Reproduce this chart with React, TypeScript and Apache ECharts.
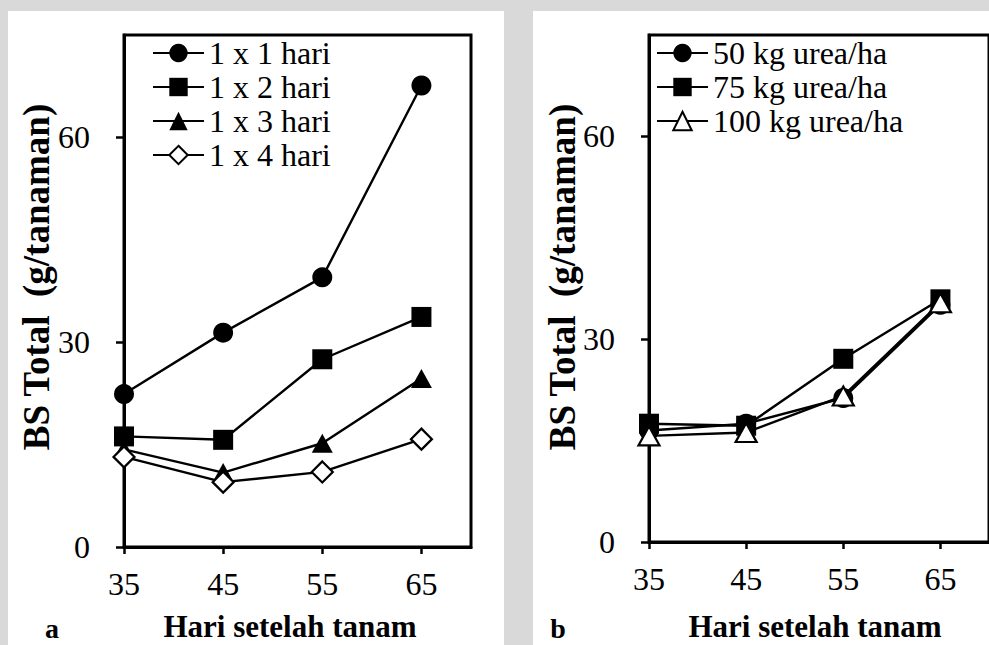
import React, { useEffect, useRef } from "react";
import * as echarts from "echarts";

const days = [35, 45, 55, 65];
const xTicks = [35, 45, 55, 65];
const yTicks = [0, 30, 60];

const leftNames = ["1 x 1 hari", "1 x 2 hari", "1 x 3 hari", "1 x 4 hari"];
const left1 = [22.4, 31.4, 39.5, 67.6];
const left2 = [16.2, 15.7, 27.5, 33.7];
const left3 = [14.3, 10.9, 15.2, 24.7];
const left4 = [13.2, 9.5, 11.0, 15.8];

const rightNames = ["50 kg urea/ha", "75 kg urea/ha", "100 kg urea/ha"];
const right50 = [16.5, 17.5, 21.3, 35.1];
const right75 = [17.5, 17.2, 27.1, 35.9];
const right100 = [15.7, 16.2, 21.6, 35.4];

const xTitle = "Hari setelah tanam";
const yTitle = "BS Total  (g/tanaman)";

const FONT = '"Liberation Serif", "Times New Roman", serif';

export default function App() {
  const ref = useRef<HTMLDivElement>(null);

  useEffect(() => {
    if (!ref.current) return;
    const chart = echarts.init(ref.current, undefined, { renderer: "svg" });

    const pair = (vals: number[]) => days.map((d, i) => [d, vals[i]]);

    const mkX = (gi: number) => ({
      type: "value",
      gridIndex: gi,
      min: 35,
      max: 70,
      interval: 10,
      axisLine: { show: true, onZero: false, lineStyle: { color: "#000", width: 3 } },
      axisTick: { show: true, length: 7, customValues: xTicks, lineStyle: { color: "#000", width: 2.5 } },
      axisLabel: {
        customValues: xTicks,
        formatter: (v: number) => (xTicks.includes(v) ? String(v) : ""),
        margin: 21,
        color: "#000",
        fontFamily: FONT,
        fontSize: 32,
      },
      splitLine: { show: false },
    });
    const mkY = (gi: number) => ({
      type: "value",
      gridIndex: gi,
      min: 0,
      max: 75,
      interval: 30,
      axisLine: { show: true, lineStyle: { color: "#000", width: 3 } },
      axisTick: { show: true, length: 8, customValues: yTicks, lineStyle: { color: "#000", width: 2.5 } },
      axisLabel: {
        customValues: yTicks,
        formatter: (v: number) => (yTicks.includes(v) ? String(v) : ""),
        margin: 34,
        color: "#000",
        fontFamily: FONT,
        fontSize: 32,
      },
      splitLine: { show: false },
    });

    const solid = (name: string, symbol: string, size: number | number[], data: number[], xi: number) => ({
      type: "line",
      name,
      xAxisIndex: xi,
      yAxisIndex: xi,
      data: pair(data),
      symbol,
      symbolSize: size,
      showSymbol: true,
      lineStyle: { color: "#000", width: 2.4 },
      itemStyle: { color: "#000" },
    });
    const hollow = (name: string, symbol: string, size: number | number[], data: number[], xi: number) => ({
      type: "line",
      name,
      xAxisIndex: xi,
      yAxisIndex: xi,
      data: pair(data),
      symbol,
      symbolSize: size,
      showSymbol: true,
      lineStyle: { color: "#000", width: 2.4 },
      itemStyle: { color: "#fff", borderColor: "#000", borderWidth: 2.2 },
    });

    const legendBase = {
      orient: "vertical",
      itemWidth: 51,
      itemHeight: 23,
      itemGap: 0,
      padding: 0,
      selectedMode: false,
      textStyle: { color: "#000", fontFamily: FONT, fontSize: 32, lineHeight: 34 },
    };

    const titleFont = `bold 31px ${FONT}`;
    const yTitleFont = `bold 37px ${FONT}`;

    chart.setOption({
      animation: false,
      backgroundColor: "transparent",
      grid: [
        { left: 124, top: 35, width: 347, height: 512, show: true, borderColor: "#000", borderWidth: 3, backgroundColor: "transparent" },
        { left: 649, top: 35, width: 347, height: 507, show: true, borderColor: "#000", borderWidth: 3, backgroundColor: "transparent" },
      ],
      xAxis: [mkX(0), mkX(1)],
      yAxis: [mkY(0), mkY(1)],
      legend: [
        { ...legendBase, left: 152, top: 36, data: leftNames },
        { ...legendBase, left: 656, top: 36, data: rightNames },
      ],
      series: [
        solid(leftNames[0], "circle", 20, left1, 0),
        solid(leftNames[1], "rect", 20, left2, 0),
        solid(leftNames[2], "triangle", [21, 19], left3, 0),
        hollow(leftNames[3], "diamond", 21, left4, 0),
        solid(rightNames[0], "circle", 20, right50, 1),
        solid(rightNames[1], "rect", 20, right75, 1),
        hollow(rightNames[2], "triangle", [21, 19], right100, 1),
      ],
      graphic: [
        { type: "text", x: 36, y: 277, rotation: Math.PI / 2, style: { text: yTitle, font: yTitleFont, fill: "#000", align: "center", verticalAlign: "middle" } },
        { type: "text", x: 562, y: 277, rotation: Math.PI / 2, style: { text: yTitle, font: yTitleFont, fill: "#000", align: "center", verticalAlign: "middle" } },
        { type: "text", x: 290, y: 626, style: { text: xTitle, font: titleFont, fill: "#000", align: "center", verticalAlign: "middle" } },
        { type: "text", x: 815, y: 626, style: { text: xTitle, font: titleFont, fill: "#000", align: "center", verticalAlign: "middle" } },
        { type: "text", x: 52, y: 628, style: { text: "a", font: `bold 28px ${FONT}`, fill: "#000", align: "center", verticalAlign: "middle" } },
        { type: "text", x: 558, y: 628, style: { text: "b", font: `bold 28px ${FONT}`, fill: "#000", align: "center", verticalAlign: "middle" } },
      ],
    });

    return () => chart.dispose();
  }, []);

  return (
    <div style={{ position: "fixed", left: 0, top: 0, width: 989, height: 645, background: "#d9d9d9", overflow: "hidden" }}>
      <div style={{ position: "absolute", left: 8, top: 11, width: 496, height: 634, background: "#fff" }} />
      <div style={{ position: "absolute", left: 533, top: 11, width: 456, height: 634, background: "#fff" }} />
      <div ref={ref} style={{ position: "absolute", left: 0, top: 0, width: 989, height: 645 }} />
    </div>
  );
}
